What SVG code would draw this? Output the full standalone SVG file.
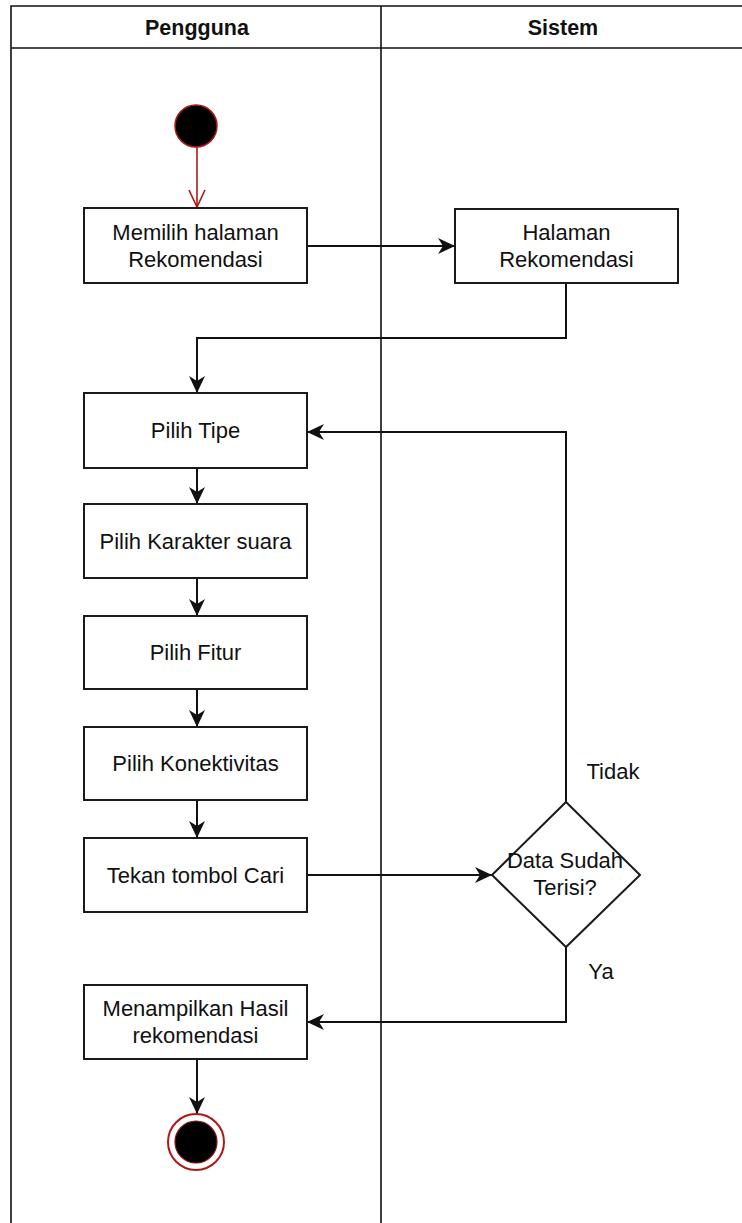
<svg xmlns="http://www.w3.org/2000/svg" width="742" height="1223" viewBox="0 0 742 1223">
<style>
.lane{fill:none;stroke:#111;stroke-width:1.6}
.box{fill:#fff;stroke:#1a1a1a;stroke-width:2}
.t{font-family:"Liberation Sans",Arial,sans-serif;font-size:22px;fill:#111;text-anchor:middle}
.h{font-family:"Liberation Sans",Arial,sans-serif;font-size:21.5px;font-weight:bold;fill:#111;text-anchor:middle}
.c{fill:none;stroke:#111;stroke-width:2}
</style>
<defs>
<marker id="arr" markerUnits="userSpaceOnUse" markerWidth="20" markerHeight="20" viewBox="-18 -10 20 20" refX="0" refY="0" orient="auto">
<path d="M0,0 L-17,-8 L-12,0 L-17,8 Z" fill="#111"/>
</marker>
<marker id="open" markerUnits="userSpaceOnUse" markerWidth="22" markerHeight="22" viewBox="-20 -11 22 22" refX="0" refY="0" orient="auto">
<path d="M-17,-8 L0,0 L-17,8" fill="none" stroke="#b01818" stroke-width="1.6"/>
</marker>
</defs>
<rect width="742" height="1223" fill="#fff"/>
<g id="lanes">
<path class="lane" d="M11,1223 V6 H742 M11,48 H742 M381,6 V1223"/>
<text class="h" x="197" y="35">Pengguna</text>
<text class="h" x="563" y="35">Sistem</text>
</g>
<g id="connectors">
<line x1="197" y1="147" x2="197" y2="207" stroke="#b01818" stroke-width="1.6" marker-end="url(#open)"/>
<path class="c" d="M307,246 H455" marker-end="url(#arr)"/>
<path class="c" d="M566,283 V338 H197 V393" marker-end="url(#arr)"/>
<path class="c" d="M197,468 V504" marker-end="url(#arr)"/>
<path class="c" d="M197,578 V616" marker-end="url(#arr)"/>
<path class="c" d="M197,689 V727" marker-end="url(#arr)"/>
<path class="c" d="M197,800 V838" marker-end="url(#arr)"/>
<path class="c" d="M307,875 H492" marker-end="url(#arr)"/>
<path class="c" d="M566,802 V432 H307" marker-end="url(#arr)"/>
<path class="c" d="M566,947 V1022 H307" marker-end="url(#arr)"/>
<path class="c" d="M197,1059 V1114" marker-end="url(#arr)"/>
<text class="t" x="613" y="779">Tidak</text>
<text class="t" x="601" y="979">Ya</text>
</g>
<g id="start">
<circle cx="196" cy="126" r="21" fill="#000" stroke="#b01818" stroke-width="1.5"/>
</g>
<g id="n1">
<rect class="box" x="84" y="208" width="223" height="75"/>
<text class="t" x="195.5" y="240">Memilih halaman</text>
<text class="t" x="195.5" y="267">Rekomendasi</text>
</g>
<g id="n2">
<rect class="box" x="455" y="209" width="223" height="74"/>
<text class="t" x="566.5" y="240">Halaman</text>
<text class="t" x="566.5" y="267">Rekomendasi</text>
</g>
<g id="n3">
<rect class="box" x="84" y="393" width="223" height="75"/>
<text class="t" x="195.5" y="438">Pilih Tipe</text>
</g>
<g id="n4">
<rect class="box" x="84" y="504" width="223" height="74"/>
<text class="t" x="195.5" y="549">Pilih Karakter suara</text>
</g>
<g id="n5">
<rect class="box" x="84" y="616" width="223" height="73"/>
<text class="t" x="195.5" y="660">Pilih Fitur</text>
</g>
<g id="n6">
<rect class="box" x="84" y="727" width="223" height="73"/>
<text class="t" x="195.5" y="771">Pilih Konektivitas</text>
</g>
<g id="n7">
<rect class="box" x="84" y="838" width="223" height="74"/>
<text class="t" x="195.5" y="883">Tekan tombol Cari</text>
</g>
<g id="decision">
<polygon points="566,802 640,875 566,947 492,875" fill="#fff" stroke="#1a1a1a" stroke-width="2"/>
<text class="t" x="565" y="868">Data Sudah</text>
<text class="t" x="565" y="895">Terisi?</text>
</g>
<g id="n8">
<rect class="box" x="84" y="985" width="223" height="74"/>
<text class="t" x="195.5" y="1016">Menampilkan Hasil</text>
<text class="t" x="195.5" y="1043">rekomendasi</text>
</g>
<g id="end">
<circle cx="196" cy="1142" r="28" fill="#fff" stroke="#b01818" stroke-width="2"/>
<circle cx="196" cy="1142" r="21" fill="#000" stroke="#8a1010" stroke-width="1.2"/>
</g>
</svg>
